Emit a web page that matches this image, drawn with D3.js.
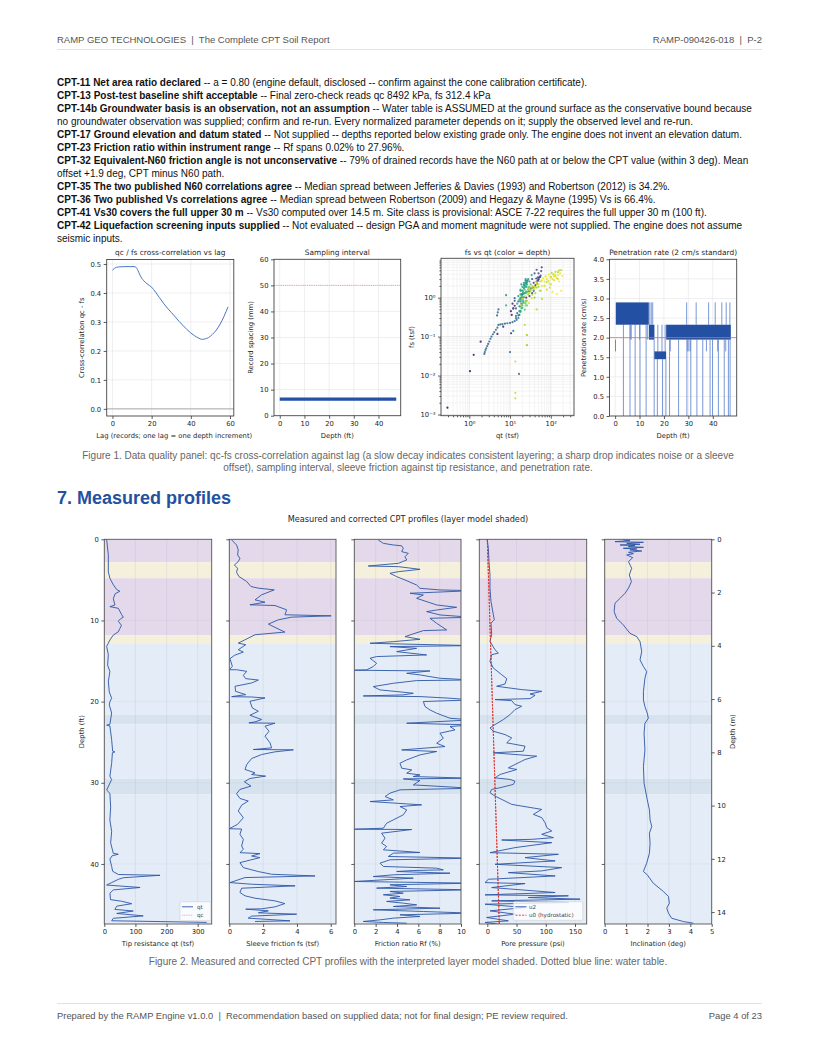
<!DOCTYPE html>
<meta charset="utf-8">
<style>
body { margin: 0; background: #fff; }
svg { display: block; }
</style>
<body>
<script src="https://d3js.org/d3.v7.min.js"></script>
<script>

// ---------- data ----------
var notes = [
  ["CPT-11 Net area ratio declared", " -- a = 0.80 (engine default, disclosed -- confirm against the cone calibration certificate)."],
  ["CPT-13 Post-test baseline shift acceptable", " -- Final zero-check reads qc 8492 kPa, fs 312.4 kPa"],
  ["CPT-14b Groundwater basis is an observation, not an assumption", " -- Water table is ASSUMED at the ground surface as the conservative bound because"],
  ["", "no groundwater observation was supplied; confirm and re-run. Every normalized parameter depends on it; supply the observed level and re-run."],
  ["CPT-17 Ground elevation and datum stated", " -- Not supplied -- depths reported below existing grade only. The engine does not invent an elevation datum."],
  ["CPT-23 Friction ratio within instrument range", " -- Rf spans 0.02% to 27.96%."],
  ["CPT-32 Equivalent-N60 friction angle is not unconservative", " -- 79% of drained records have the N60 path at or below the CPT value (within 3 deg). Mean"],
  ["", "offset +1.9 deg, CPT minus N60 path."],
  ["CPT-35 The two published N60 correlations agree", " -- Median spread between Jefferies & Davies (1993) and Robertson (2012) is 34.2%."],
  ["CPT-36 Two published Vs correlations agree", " -- Median spread between Robertson (2009) and Hegazy & Mayne (1995) Vs is 66.4%."],
  ["CPT-41 Vs30 covers the full upper 30 m", " -- Vs30 computed over 14.5 m. Site class is provisional: ASCE 7-22 requires the full upper 30 m (100 ft)."],
  ["CPT-42 Liquefaction screening inputs supplied", " -- Not evaluated -- design PGA and moment magnitude were not supplied. The engine does not assume"],
  ["", "seismic inputs."]
];

// cross-correlation vs lag
var lags = [0,1,3,6,9,11,12,13,14,16,18,20,22,24,26,28,30,32,34,36,38,40,42,44,45,46,47,49,51,53,55,57,59];
var xcorr = [0.479,0.485,0.490,0.491,0.491,0.491,0.489,0.478,0.462,0.442,0.430,0.420,0.403,0.384,0.365,0.348,0.333,0.318,0.302,0.288,0.274,0.262,0.252,0.244,0.241,0.240,0.241,0.246,0.257,0.272,0.293,0.320,0.352];

// sampling interval
var samplingDepth = [0, 47.2];
var samplingSpacing = [6.35, 6.35];
var samplingLimit = 50;

// fs vs qt, [qt, fs, depth ft]
var fsQtPoints = [
  [0.29,0.0015,0.3],[1.04,0.013,0.6],[1.28,0.034,0.9],[1.9,0.074,1.2],[4.9,0.117,1.6],[6.8,0.18,2.0],[10.6,0.122,2.3],
  [11,0.36,2.6],[12,0.53,3.0],[10.5,0.45,3.4],[13,0.62,3.8],[11.5,0.7,4.2],
  [30,1.1,5.0],[35,1.3,5.5],[45,2.6,6.2],[40,1.9,6.8],[38,1.5,7.5],[42,2.1,7.8],[20,1.2,8.1],[48,2.7,8.2],[55,3.4,8.7],
  [52,3.3,9.2],[60,6.0,9.4],[58,4.8,9.35],[56,3.7,9.6],[50,2.9,9.9],[46,2.3,10.5],[50,3.0,11.1],[48,3.3,11.4],[30,1.5,11.8],
  [20,0.9,12.4],[14,0.53,12.8],[40,4.2,9.3],[45,5.2,9.45],[35,3.0,8.9],[13,0.97,13.0],[12,0.53,13.6],[13,0.83,13.9],
  [32,1.7,6.0],[38,2.4,7.0],[44,3.1,8.4],[50,4.2,9.0],[36,1.8,10.8],[28,1.4,11.6],[25,1.0,5.2],[18,0.8,12.2],
  [2.34,0.036,15.2],[2.4,0.040,15.25],[2.5,0.045,15.3],[2.6,0.05,15.35],[2.75,0.057,15.4],[2.9,0.065,15.45],[3.1,0.075,15.5],
  [3.3,0.088,15.55],[3.5,0.1,15.6],[3.8,0.115,15.65],[4.1,0.13,15.7],[4.5,0.15,15.75],[4.9,0.17,15.8],[5.2,0.2,15.85],
  [5.8,0.205,15.9],[6.5,0.21,15.95],[7.5,0.215,16.0],[8.6,0.22,16.05],[10,0.225,16.1],[11.5,0.235,16.2],[13,0.25,16.3],
  [14.5,0.27,16.4],[16,0.3,16.6],[17,0.36,16.8],[18,0.45,17.0],[17,0.6,17.2],[20,1.0,17.4],[16,0.8,17.8],[14,0.34,18.1],
  [15,0.4,18.7],[18,0.97,19.1],[12,0.14,19.4],[22,1.3,19.5],[4.8,0.35,14.5],[5.2,0.5,14.6],[5.0,0.42,14.4],[10,0.04,14.7],
  [14,0.3,14.3],[16.6,0.011,15.0],
  [20,1.22,20.0],[21,1.36,20.8],[22,1.72,21.2],[19,1.22,21.7],[23,1.9,22.2],[20,1.5,22.5],[8,1.16,22.6],[24,2.7,22.7],
  [23,2.1,23.0],[24,2.35,23.6],[22,2.1,24.3],[25,2.4,25.1],[26,2.5,25.7],[25,1.42,25.9],[34,3.8,26.0],[27,2.7,26.2],
  [25,1.9,26.5],[24,1.32,27.0],[22,1.03,27.7],[20,0.93,28.4],[18,0.6,21.5],[17,0.45,20.5],[16,0.35,20.3],[19,0.7,23.3],
  [21,0.8,24.8],[28,3.0,25.5],[30,2.6,24.0],[26,2.2,23.8],
  [18,1.5,24.5],[20,1.9,25.2],[22,2.4,26.8],[24,3.0,25.8],[26,2.8,23.4],[16,1.1,22.0],[19,2.2,24.0],
  [20,1.52,28.8],[22,2.15,29.2],[18,1.22,29.5],[18,0.89,29.9],[22,1.28,30.4],[8,0.63,30.8],[18,0.43,31.3],[20,0.63,31.9],
  [20,1.12,32.3],[21,0.73,32.8],[19,0.53,33.5],[18,0.83,34.3],[23,0.49,35.1],[24,0.73,35.7],[26,0.63,36.4],[25,0.83,37.0],
  [26,0.06,33.0],[26,0.11,33.6],[22,1.8,31.0],[25,2.0,32.0],[28,1.6,34.0],[30,1.9,35.0],[27,1.4,36.0],
  [15,0.7,30.0],[17,0.9,31.5],[19,1.1,33.0],[21,1.4,34.5],[23,1.6,35.5],[25,1.3,36.5],[20,0.55,29.6],[28,1.8,33.8],
  [32,2.2,35.2],[18,1.6,28.6],
  [22,0.73,37.8],[24,0.83,38.2],[45,1.81,38.7],[30,1.32,39.0],[35,1.81,39.2],[24,0.63,39.8],[26,0.83,40.4],[30,1.72,40.9],
  [45,2.5,41.2],[180,5.1,41.45],[150,4.5,41.5],[100,3.4,41.55],[61,0.93,41.7],[45,0.5,41.9],[23,0.2,42.3],[13.5,0.0036,42.3],
  [13.5,0.0026,42.35],[13.5,0.023,42.4],[115,3.9,42.7],[80,2.5,42.8],[29,0.73,43.0],[18,0.63,43.5],[20,0.93,44.0],
  [56,1.52,44.4],[88,2.7,44.7],[100,3.3,44.9],[60,2.7,45.1],[40,1.9,45.3],[34,0.97,45.6],[93,2.3,45.8],[40,1.72,46.0],
  [125,4.0,46.3],[80,3.0,46.35],[29,1.32,46.5],[23.6,1.12,46.7],[190,3.6,47.0],[140,1.24,47.1],[180,1.5,47.2],
  [130,4.6,41.47],[160,5.0,41.46],[70,2.0,42.75],[100,2.2,43.8],[120,2.8,44.5],[140,3.2,44.8],[110,3.0,45.0],
  [150,3.8,46.2],[170,4.2,46.1],[120,3.5,46.25],[60,2.0,46.8],[70,2.6,45.9],[50,2.2,44.2],[110,1.4,47.3],
  [40,1.0,38.5],[55,1.5,39.5],[35,1.2,40.0],[25.6,0.061,43.2],[25.6,0.11,43.4],
  [30,1.6,44.2],[35,2.0,44.3],[45,2.3,45.4],[55,2.6,43.9],[65,3.1,46.0],[75,3.5,45.7],[90,3.9,46.15],[105,4.3,41.5],
  [130,3.6,42.6],[150,3.0,44.6],[160,2.6,47.25],[95,1.8,44.3],[80,1.6,43.7],[42,1.3,40.2],[38,1.6,40.6],[50,1.9,38.9],
  [28,1.2,39.6],[32,1.5,41.0]
];

// penetration rate: filled bands, then thin vertical strokes [depth, from, to]
var rateBlockStart = [0.0, 0.27, 13.8, 16.1, 20.9];
var rateBlockEnd   = [0.27, 13.8, 16.1, 20.9, 47.4];
var rateBlockLow   = [1.65, 2.33, 1.95, 1.45, 1.95];
var rateBlockHigh  = [1.95, 2.90, 2.33, 1.65, 2.33];
var rateStrokes = [
  [14.2,2.33,2.9],[14.8,2.33,2.9],[15.4,2.33,2.9],[17.5,1.65,2.33],[19.2,1.65,2.33],[20.5,1.65,2.33],
  [29.3,2.33,2.9],[33.2,2.33,2.9],[38.3,2.33,2.9],[41.0,2.33,2.9],[43.7,2.33,2.9],[45.5,2.33,2.9],[47.0,2.33,2.9],
  [6.2,1.95,2.33],[6.6,1.95,2.33],[10.0,1.95,2.33],[13.2,1.95,2.33],[22.6,1.65,1.95],[29.6,1.65,1.95],
  [30.2,1.65,1.95],[30.8,1.65,1.95],[37.4,1.65,1.95],[42.0,1.65,1.95],[45.3,1.65,1.95],
  [3.4,0,2.33],[6.1,0,2.33],[8.2,0,2.33],[10.2,0,2.33],[12.7,0,2.33],[16.0,0,1.95],[17.3,0,1.45],[19.4,0,1.45],
  [20.8,0,1.45],[22.3,0,1.95],[26.0,0,1.95],[29.4,0,1.95],[31.0,0,1.95],[33.5,0,1.95],[35.9,0,1.95],[38.9,0,1.95],
  [39.9,0,1.95],[42.3,0,1.95],[44.7,0,1.95],[46.4,0,1.95],[47.1,0,1.95]
];
var rateStandard = 2.0;

// profiles, [depth ft, value]
var qtProfile = [
  [0,7.5],[1.9,12.9],[4.0,12.9],[4.8,18],[5.6,29],[6.2,40],[6.4,50],[6.7,35],[7.3,29],[8.1,34],[8.3,18],[8.5,45],
  [9.3,56],[9.6,61],[9.8,52],[10.1,45],[10.6,55],[11.0,50],[11.4,45],[11.8,29],[12.4,18],[12.8,13],[13.2,7.5],
  [14.2,12.9],[15.5,10.7],[16.3,18],[17.5,13],[18.8,16],[19.6,23.6],[20.0,18],[20.4,16],[21.4,23.6],[22.8,18],
  [22.9,7.5],[23.0,18],[24.7,23.6],[26.1,26.8],[26.2,34],[26.3,26],[27.6,23.6],[29.2,18],[29.6,23.6],[30.9,7.5],
  [31.3,18],[33.0,20.4],[34.6,18],[36.0,23.6],[37.4,20.4],[38.7,29],[38.8,45],[39.0,25],[39.4,18],[40.3,23.6],
  [40.9,26.8],[41.3,45],[41.4,179],[41.7,61],[41.9,45],[42.3,23.6],[42.6,7.5],[42.9,115],[43.2,29],[43.6,18.2],
  [44.4,20],[44.6,56],[44.9,88],[45.2,40],[45.6,34],[45.8,93],[46.1,40],[46.4,125],[46.7,29],[47.0,23.6],[47.2,329]
];
var fsProfile = [
  [0.08,0.14],[0.70,0.43],[1.31,0.53],[1.93,0.49],[2.34,0.63],[2.75,0.53],[3.16,0.30],[3.57,0.49],[4.06,0.43],
  [4.59,0.57],[5.20,1.03],[5.82,1.28],[6.02,1.72],[6.23,2.66],[6.84,1.91],[7.46,1.52],[7.75,2.11],[8.07,1.22],
  [8.16,2.70],[8.69,3.39],[9.30,3.29],[9.43,6.02],[9.59,3.69],[9.92,2.90],[10.45,2.31],[11.15,3.00],[11.43,3.29],
  [11.76,1.52],[12.38,0.93],[12.79,0.53],[12.99,0.97],[13.61,0.53],[13.89,0.83],[14.30,0.30],[14.71,0.04],
  [15.66,0.18],[16.07,0.0],[16.07,0.43],[16.27,1.03],[16.76,0.83],[17.17,0.97],[17.34,1.72],[17.70,1.32],
  [18.11,0.34],[18.73,0.37],[19.14,0.97],[19.39,0.14],[19.43,1.32],[19.55,2.11],[19.96,1.22],[20.78,1.36],
  [21.19,1.72],[21.68,1.22],[22.21,1.91],[22.50,1.52],[22.62,1.16],[22.66,2.70],[23.03,2.11],[23.65,2.35],
  [24.26,2.11],[25.08,2.41],[25.70,2.50],[25.90,1.42],[25.94,3.79],[26.19,2.70],[26.52,1.91],[27.01,1.32],
  [27.75,1.03],[28.36,0.93],[28.77,1.52],[28.98,1.32],[29.18,2.15],[29.47,1.22],[29.88,0.89],[30.41,1.28],
  [30.82,0.63],[31.35,0.43],[31.93,0.63],[32.25,1.12],[32.75,0.73],[33.48,0.53],[34.30,0.83],[35.12,0.49],
  [35.66,0.0],[35.70,0.73],[36.35,0.63],[36.97,0.83],[37.79,0.73],[38.20,0.83],[38.61,0.63],[38.73,1.81],
  [39.02,1.32],[39.22,1.81],[39.84,0.63],[40.45,0.83],[40.94,1.72],[41.27,2.50],[41.48,5.07],[41.68,0.93],
  [42.30,0.04],[42.50,1.32],[42.70,3.89],[42.99,0.73],[43.52,0.63],[43.93,0.93],[44.22,1.52],[44.55,2.70],
  [44.88,3.29],[45.29,2.70],[45.53,1.91],[45.57,0.97],[45.78,2.31],[46.02,1.72],[46.19,3.98],[46.43,1.32],
  [46.68,1.12],[47.01,3.59],[47.09,1.52]
];
var rfProfile = [
  [0.09,2.25],[0.50,2.72],[0.70,3.66],[0.80,4.44],[1.11,4.59],[1.52,4.44],[1.73,5.06],[2.14,4.75],[2.55,4.91],
  [2.96,4.13],[3.29,1.31],[3.37,4.13],[3.70,6.16],[3.99,4.13],[4.19,3.34],[4.60,3.97],[5.01,4.75],[5.63,5.84],
  [6.04,6.16],[6.24,8.03],[6.33,11],[6.65,5.22],[6.86,6.47],[7.27,5.84],[8.09,7.72],[8.38,9.59],[8.71,7.72],
  [8.91,6.78],[9.32,8.03],[9.61,11],[9.73,7.09],[10.35,7.72],[11.17,8.66],[11.25,6.47],[11.58,5.69],[11.99,4.75],
  [12.32,6.16],[12.61,3.66],[12.81,1.47],[13.10,11],[13.22,3.34],[13.43,5.84],[13.84,3.97],[14.25,6.78],
  [14.45,2.09],[14.66,1.47],[15.27,2.09],[15.68,1.78],[16.09,1.16],[16.13,0],[16.22,7.09],[16.51,4.91],
  [16.71,6.16],[16.92,7.09],[17.12,8.03],[17.33,11],[17.41,5.84],[17.74,3.66],[18.15,1.78],[18.56,2.41],
  [18.76,3.97],[18.97,5.53],[19.17,4.59],[19.30,0.84],[19.38,6.16],[19.58,8.97],[19.79,11],[19.99,6.47],
  [20.61,6.63],[21.02,7.09],[21.43,7.72],[22.05,8.97],[22.25,11],[22.66,4.91],[22.87,11],[23.07,8.97],
  [23.48,9.44],[23.89,8.03],[24.51,8.34],[25.13,7.72],[25.54,8.5],[25.95,4.44],[26.15,7.72],[26.56,6.16],
  [27.18,4.91],[27.59,4.28],[28.20,4.44],[28.41,5.38],[28.82,4.91],[29.03,6.16],[29.23,5.53],[29.44,11],
  [29.52,4.59],[29.72,6.16],[30.26,5.53],[30.67,11],[30.87,4.28],[31.28,3.34],[31.70,2.88],[32.11,3.66],
  [32.31,1.47],[32.60,4.91],[32.72,6.31],[32.93,4.28],[33.34,4.91],[33.95,4.59],[34.57,3.66],[34.98,3.03],
  [35.60,2.72],[35.72,0],[35.76,5.38],[36.21,2.56],[36.83,2.88],[37.44,2.56],[37.85,3.03],[38.26,2.72],
  [38.59,6.16],[38.67,3.66],[39.08,3.19],[39.29,11],[39.49,3.34],[39.90,2.41],[40.31,2.72],[40.52,7.72],
  [40.73,8.34],[40.81,5.53],[40.93,3.97],[41.14,8.97],[41.34,3.66],[41.55,1.78],[41.75,5.53],[42.16,0],
  [42.37,11],[42.57,3.34],[42.78,4.91],[42.98,2.09],[43.19,11],[43.39,3.34],[43.60,4.59],[43.80,2.72],
  [44.01,4.28],[44.21,3.34],[44.42,5.22],[44.62,3.03],[44.83,4.59],[45.04,5.84],[45.24,3.66],[45.45,8.03],
  [45.65,1.78],[45.86,6.47],[46.06,11],[46.27,4.28],[46.47,6.16],[46.68,3.66],[46.89,2.41],[47.09,0.84],
  [47.21,2.72],[47.30,4.91]
];
var u2Profile = [
  [0.08,0],[1.11,1.8],[2.75,2.9],[4.39,4.6],[6.02,4.6],[7.66,6.3],[9.30,10.3],[9.92,12.0],[10.33,6.3],[11.76,7.5],
  [12.58,4.6],[13.61,13.2],[14.02,18.9],[14.22,7.5],[15.04,4.6],[15.86,10.3],[16.68,24.6],[17.17,33.2],[17.83,30.3],
  [18.11,16.0],[18.52,58.8],[18.73,93.1],[19.06,73.1],[19.22,81.7],[19.63,73.1],[19.75,13.2],[19.88,41.7],
  [20.37,47.4],[20.57,58.8],[20.98,47.4],[21.60,38.9],[22.21,27.5],[22.83,13.2],[23.24,4.6],[23.65,10.3],
  [24.06,30.3],[24.47,41.7],[25.08,33.2],[25.49,64.6],[26.11,61.7],[26.31,10.3],[26.72,84.5],[27.13,64.6],
  [27.34,58.8],[27.75,47.4],[28.16,36.0],[28.36,50.3],[28.98,21.7],[29.39,13.2],[29.59,38.9],[29.80,47.4],
  [30.20,44.6],[30.61,21.7],[30.82,7.5],[31.23,4.6],[31.64,13.2],[32.25,30.3],[32.66,41.7],[32.87,58.8],
  [33.28,93.1],[33.89,78.8],[34.30,93.1],[34.92,98.8],[35.53,101.7],[35.94,110.2],[36.35,93.1],[36.76,113.1],
  [36.97,76.0],[37.05,24.6],[37.38,110.2],[37.99,47.4],[38.61,4.6],[38.81,121.6],[39.22,64.6],[39.63,116.0],
  [40.04,13.2],[40.45,127.3],[40.86,93.1],[41.07,36.0],[41.48,116.0],[41.89,1.8],[42.30,-3.9],[42.42,64.6],
  [42.91,7.5],[43.52,116.0],[43.81,-3.9],[43.93,138.7],[44.14,70.2],[44.34,158.7],[44.55,7.5],[44.75,138.7],
  [44.96,-3.9],[45.37,64.6],[45.78,4.6],[46.19,47.4],[46.60,-1.1],[47.01,36.0],[47.21,-3.9],[47.42,18.9]
];
var u0Line = [[0, 0], [47.4, 20.5]];
var inclProfile = [
  [0.08,0.87],[0.16,1.18],[0.29,0.48],[0.37,1.81],[0.49,1.03],[0.62,1.65],[0.70,0.72],[0.78,1.42],[0.90,1.11],
  [0.99,1.81],[1.11,0.87],[1.19,1.50],[1.31,1.18],[1.44,1.73],[1.60,1.11],[1.77,1.34],[1.93,1.03],[2.26,1.31],
  [2.75,1.11],[3.57,1.26],[4.39,1.15],[5.21,1.25],[5.62,1.18],[6.03,1.11],[6.65,0.95],[7.27,0.72],[7.88,0.48],
  [8.91,0.44],[9.73,0.56],[10.55,0.87],[11.58,1.18],[11.99,1.50],[12.60,1.65],[13.83,1.73],[14.86,1.65],
  [15.68,1.81],[16.30,1.96],[17.12,1.88],[18.76,1.81],[19.79,1.81],[20.61,1.88],[21.43,1.99],[22.05,2.04],
  [22.67,1.88],[23.90,1.84],[25.95,1.88],[28.00,1.81],[30.05,1.84],[32.11,1.99],[33.34,2.09],[34.57,2.12],
  [35.39,2.20],[36.21,2.09],[37.44,2.12],[38.68,2.09],[39.91,1.96],[40.93,1.81],[41.34,1.99],[42.37,2.27],
  [43.39,2.74],[44.01,2.98],[44.83,3.02],[45.45,2.90],[46.07,2.98],[46.69,3.13],[47.10,3.68],[47.30,4.14]
];

// interpreted layer model
var layerTop  = [0, 2.83, 4.8, 11.8, 12.9, 21.6, 22.8, 29.5, 31.4];
var layerBase = [2.83, 4.8, 11.8, 12.9, 21.6, 22.8, 29.5, 31.4, 47.4];
var layerKind = ["clay", "silt", "clay", "silt", "sand", "sand2", "sand", "sand2", "sand"];
var layerFill = {clay: "#e4d9eb", silt: "#f5f0dc", sand: "#e4ecf7", sand2: "#d7e2ef"};

// ---------- page ----------
var svg = d3.select("body").append("svg")
    .attr("width", 816)
    .attr("height", 1056);

var pageFont = "'Liberation Sans', Arial, sans-serif";
var plotFont = "'DejaVu Sans', sans-serif";
var ink = "#262626";
var lineBlue = "#2b56a6";

svg.append("text").attr("x", 57).attr("y", 43)
    .attr("font-family", pageFont).attr("font-size", 9.5).attr("fill", "#555")
    .attr("xml:space", "preserve")
    .text("RAMP GEO TECHNOLOGIES  |  The Complete CPT Soil Report");
svg.append("text").attr("x", 762).attr("y", 43).attr("text-anchor", "end")
    .attr("font-family", pageFont).attr("font-size", 9.5).attr("fill", "#555")
    .attr("xml:space", "preserve")
    .text("RAMP-090426-018  |  P-2");
svg.append("line").attr("x1", 57).attr("x2", 762).attr("y1", 49.5).attr("y2", 49.5)
    .attr("stroke", "#e2e2e2").attr("stroke-width", 1);

var noteText = svg.append("g").attr("font-family", pageFont).attr("font-size", 10).attr("fill", "#111");
notes.forEach(function(n, i) {
  var t = noteText.append("text").attr("x", 57).attr("y", 85.5 + i * 13);
  if (n[0]) t.append("tspan").attr("font-weight", "bold").text(n[0]);
  t.append("tspan").text(n[1]);
});

// ---------- helpers ----------
function styleAxis(g, size) {
  g.select(".domain").remove();
  g.selectAll(".tick line").attr("stroke", "#333").attr("stroke-width", 0.8);
  g.selectAll(".tick text").attr("font-family", plotFont).attr("font-size", size).attr("fill", ink);
}

function frame(b, color) {
  svg.append("rect").attr("x", b.x0).attr("y", b.y0)
      .attr("width", b.x1 - b.x0).attr("height", b.y1 - b.y0)
      .attr("fill", "none").attr("stroke", color || "#444").attr("stroke-width", 0.9);
}

var clipCount = 0;
function clipFor(b) {
  var id = "clip" + (clipCount++);
  svg.append("clipPath").attr("id", id).append("rect")
      .attr("x", b.x0).attr("y", b.y0).attr("width", b.x1 - b.x0).attr("height", b.y1 - b.y0);
  return "url(#" + id + ")";
}

function label(x, y, txt, size, rotate, anchor) {
  var t = svg.append("text").attr("font-family", plotFont).attr("font-size", size).attr("fill", ink)
      .attr("text-anchor", anchor || "middle").text(txt);
  if (rotate) t.attr("transform", "translate(" + x + "," + y + ") rotate(-90)");
  else t.attr("x", x).attr("y", y);
  return t;
}

function vGrid(b, xs, vals, color) {
  svg.append("g").selectAll("line").data(vals).enter().append("line")
      .attr("x1", function(d) { return xs(d); }).attr("x2", function(d) { return xs(d); })
      .attr("y1", b.y0).attr("y2", b.y1)
      .attr("stroke", color).attr("stroke-width", 0.6);
}
function hGrid(b, ys, vals, color) {
  svg.append("g").selectAll("line").data(vals).enter().append("line")
      .attr("y1", function(d) { return ys(d); }).attr("y2", function(d) { return ys(d); })
      .attr("x1", b.x0).attr("x2", b.x1)
      .attr("stroke", color).attr("stroke-width", 0.6);
}

var f1 = 6.8;   // figure 1 font size
var t1 = 7.4;   // figure 1 titles
var gridGray = "#e4e4e4";

// ---------- Figure 1, panel 1: cross-correlation ----------
var b1 = {x0: 106.7, x1: 233.8, y0: 259.5, y1: 416};
var xLag = d3.scaleLinear().domain([-2.95, 61.95]).range([b1.x0, b1.x1]);
var yCorr = d3.scaleLinear().domain([-0.0246, 0.5156]).range([b1.y1, b1.y0]);
vGrid(b1, xLag, [0, 20, 40, 60], gridGray);
hGrid(b1, yCorr, [0, 0.1, 0.2, 0.3, 0.4, 0.5], gridGray);
svg.append("line").attr("x1", b1.x0).attr("x2", b1.x1).attr("y1", yCorr(0)).attr("y2", yCorr(0))
    .attr("stroke", "#999").attr("stroke-width", 0.8);
svg.append("path").datum(d3.zip(lags, xcorr))
    .attr("fill", "none").attr("stroke", "#4a76c6").attr("stroke-width", 1)
    .attr("d", d3.line().curve(d3.curveMonotoneX)
      .x(function(d) { return xLag(d[0]); }).y(function(d) { return yCorr(d[1]); }));
frame(b1);
svg.append("g").attr("transform", "translate(0," + b1.y1 + ")")
    .call(d3.axisBottom(xLag).tickValues([0, 20, 40, 60]).tickSize(3).tickPadding(2.5))
    .call(styleAxis, f1);
svg.append("g").attr("transform", "translate(" + b1.x0 + ",0)")
    .call(d3.axisLeft(yCorr).tickValues([0, 0.1, 0.2, 0.3, 0.4, 0.5]).tickFormat(d3.format(".1f")).tickSize(3).tickPadding(2.5))
    .call(styleAxis, f1);
label((b1.x0 + b1.x1) / 2, 254.5, "qc / fs cross-correlation vs lag", t1);
label((b1.x0 + b1.x1) / 2 + 4, 437.5, "Lag (records; one lag = one depth increment)", f1);
label(84, (b1.y0 + b1.y1) / 2, "Cross-correlation qc - fs", f1, true);

// ---------- panel 2: sampling interval ----------
var b2 = {x0: 274, x1: 400.7, y0: 259.3, y1: 415.7};
var xDep2 = d3.scaleLinear().domain([-2.33, 49.0]).range([b2.x0, b2.x1]);
var ySpace = d3.scaleLinear().domain([0, 60]).range([b2.y1, b2.y0]);
vGrid(b2, xDep2, [0, 10, 20, 30, 40], gridGray);
hGrid(b2, ySpace, [10, 20, 30, 40, 50], gridGray);
svg.append("line").attr("x1", b2.x0).attr("x2", b2.x1)
    .attr("y1", ySpace(samplingLimit)).attr("y2", ySpace(samplingLimit))
    .attr("stroke", "#ee8a8a").attr("stroke-width", 0.8).attr("stroke-dasharray", "1.2,1");
svg.append("path").datum(d3.zip(samplingDepth, samplingSpacing))
    .attr("fill", "none").attr("stroke", "#2450a6").attr("stroke-width", 3.4)
    .attr("d", d3.line().x(function(d) { return xDep2(d[0]); }).y(function(d) { return ySpace(d[1]); }));
frame(b2);
svg.append("g").attr("transform", "translate(0," + b2.y1 + ")")
    .call(d3.axisBottom(xDep2).tickValues([0, 10, 20, 30, 40]).tickSize(3).tickPadding(2.5))
    .call(styleAxis, f1);
svg.append("g").attr("transform", "translate(" + b2.x0 + ",0)")
    .call(d3.axisLeft(ySpace).tickValues([0, 10, 20, 30, 40, 50, 60]).tickSize(3).tickPadding(2.5))
    .call(styleAxis, f1);
label((b2.x0 + b2.x1) / 2, 254.5, "Sampling interval", t1);
label((b2.x0 + b2.x1) / 2, 437.5, "Depth (ft)", f1);
label(253, (b2.y0 + b2.y1) / 2, "Record spacing (mm)", f1, true);

// ---------- panel 3: fs vs qt ----------
var b3 = {x0: 441, x1: 574, y0: 258.3, y1: 415.7};
var xQt = d3.scaleLog().domain([Math.pow(10, -0.695), Math.pow(10, 2.57)]).range([b3.x0, b3.x1]);
var yFs = d3.scaleLog().domain([Math.pow(10, -3.03), Math.pow(10, 1.01)]).range([b3.y1, b3.y0]);
var supMap = {"-": "\u207B", "0": "\u2070", "1": "\u00B9", "2": "\u00B2", "3": "\u00B3"};
function pow10Label(v) {
  var e = Math.round(Math.log10(v));
  return "10" + String(e).split("").map(function(c) { return supMap[c]; }).join("");
}
var xMinor = [], yMinor = [];
[-1, 0, 1, 2].forEach(function(e) {
  for (var k = 2; k <= 9; k++) {
    var v = k * Math.pow(10, e);
    if (v > xQt.domain()[0] && v < xQt.domain()[1]) xMinor.push(v);
  }
});
[-4, -3, -2, -1, 0].forEach(function(e) {
  for (var k = 2; k <= 9; k++) {
    var v = k * Math.pow(10, e);
    if (v > yFs.domain()[0] && v < yFs.domain()[1]) yMinor.push(v);
  }
});
vGrid(b3, xQt, xMinor, "#ececec");
hGrid(b3, yFs, yMinor, "#ececec");
vGrid(b3, xQt, [1, 10, 100], "#dadada");
hGrid(b3, yFs, [0.001, 0.01, 0.1, 1], "#dadada");
var depthColor = d3.scaleSequential(d3.interpolateViridis).domain([0, 47.4]);
svg.append("g").attr("clip-path", clipFor(b3))
  .selectAll("circle").data(fsQtPoints).enter().append("circle")
    .attr("cx", function(d) { return xQt(d[0]); })
    .attr("cy", function(d) { return yFs(d[1]); })
    .attr("r", 1.1)
    .attr("fill", function(d) { return depthColor(d[2]); })
    .attr("fill-opacity", 0.85);
frame(b3);
svg.append("g").attr("transform", "translate(0," + b3.y1 + ")")
    .call(d3.axisBottom(xQt).tickValues([1, 10, 100]).tickFormat(pow10Label).tickSize(3).tickPadding(2.5))
    .call(styleAxis, f1);
svg.append("g").attr("transform", "translate(0," + b3.y1 + ")")
    .call(d3.axisBottom(xQt).tickValues(xMinor).tickFormat("").tickSize(1.6))
    .call(styleAxis, f1);
svg.append("g").attr("transform", "translate(" + b3.x0 + ",0)")
    .call(d3.axisLeft(yFs).tickValues([0.001, 0.01, 0.1, 1]).tickFormat(pow10Label).tickSize(3).tickPadding(2.5))
    .call(styleAxis, f1);
svg.append("g").attr("transform", "translate(" + b3.x0 + ",0)")
    .call(d3.axisLeft(yFs).tickValues(yMinor).tickFormat("").tickSize(1.6))
    .call(styleAxis, f1);
label((b3.x0 + b3.x1) / 2, 254.5, "fs vs qt (color = depth)", t1);
label((b3.x0 + b3.x1) / 2, 437.5, "qt (tsf)", f1);
label(414, (b3.y0 + b3.y1) / 2, "fs (tsf)", f1, true);

// ---------- panel 4: penetration rate ----------
var b4 = {x0: 609.5, x1: 736.7, y0: 259.3, y1: 416};
var xDep4 = d3.scaleLinear().domain([-2.3, 49.8]).range([b4.x0, b4.x1]);
var yRate = d3.scaleLinear().domain([0, 4]).range([b4.y1, b4.y0]);
vGrid(b4, xDep4, [0, 10, 20, 30, 40], gridGray);
hGrid(b4, yRate, [0.5, 1, 1.5, 2, 2.5, 3, 3.5], gridGray);
var rateG = svg.append("g").attr("clip-path", clipFor(b4));
rateG.selectAll("line").data(rateStrokes).enter().append("line")
    .attr("x1", function(d) { return xDep4(d[0]); }).attr("x2", function(d) { return xDep4(d[0]); })
    .attr("y1", function(d) { return yRate(d[1]); }).attr("y2", function(d) { return yRate(d[2]); })
    .attr("stroke", "#6a8cd2").attr("stroke-width", 0.9);
rateG.selectAll("rect").data(d3.range(rateBlockStart.length)).enter().append("rect")
    .attr("x", function(i) { return xDep4(rateBlockStart[i]); })
    .attr("width", function(i) { return xDep4(rateBlockEnd[i]) - xDep4(rateBlockStart[i]); })
    .attr("y", function(i) { return yRate(rateBlockHigh[i]); })
    .attr("height", function(i) { return yRate(rateBlockLow[i]) - yRate(rateBlockHigh[i]); })
    .attr("fill", "#2450a4");
svg.append("line").attr("x1", b4.x0).attr("x2", b4.x1)
    .attr("y1", yRate(rateStandard)).attr("y2", yRate(rateStandard))
    .attr("stroke", "#e06a6a").attr("stroke-width", 0.8);
frame(b4);
svg.append("g").attr("transform", "translate(0," + b4.y1 + ")")
    .call(d3.axisBottom(xDep4).tickValues([0, 10, 20, 30, 40]).tickSize(3).tickPadding(2.5))
    .call(styleAxis, f1);
svg.append("g").attr("transform", "translate(" + b4.x0 + ",0)")
    .call(d3.axisLeft(yRate).tickValues([0, 0.5, 1, 1.5, 2, 2.5, 3, 3.5, 4]).tickFormat(d3.format(".1f")).tickSize(3).tickPadding(2.5))
    .call(styleAxis, f1);
label((b4.x0 + b4.x1) / 2, 254.5, "Penetration rate (2 cm/s standard)", t1);
label((b4.x0 + b4.x1) / 2, 437.5, "Depth (ft)", f1);
label(586, (b4.y0 + b4.y1) / 2, "Penetration rate (cm/s)", f1, true);

// caption 1
var cap1 = svg.append("g").attr("font-family", pageFont).attr("font-size", 10).attr("fill", "#666").attr("text-anchor", "middle");
cap1.append("text").attr("x", 408).attr("y", 458.5)
    .text("Figure 1. Data quality panel: qc-fs cross-correlation against lag (a slow decay indicates consistent layering; a sharp drop indicates noise or a sleeve");
cap1.append("text").attr("x", 408).attr("y", 471)
    .text("offset), sampling interval, sleeve friction against tip resistance, and penetration rate.");

// section heading
svg.append("text").attr("x", 57).attr("y", 503.5)
    .attr("font-family", pageFont).attr("font-size", 18).attr("font-weight", "bold").attr("fill", "#22519f")
    .text("7. Measured profiles");

// ---------- Figure 2: profiles ----------
label(408, 521.5, "Measured and corrected CPT profiles (layer model shaded)", 8.2);

var profTop = 539.3, profBottom = 924, depthMax = 47.4;
var yDepth = d3.scaleLinear().domain([0, depthMax]).range([profTop, profBottom]);
var f2 = 6.8;

var panels = [
  {x0: 104.3, x1: 211.7, dom: [0, 345],     ticks: [0, 100, 200, 300],  data: qtProfile,   title: "Tip resistance qt (tsf)"},
  {x0: 229.3, x1: 336,   dom: [0, 6.31],    ticks: [0, 2, 4, 6],        data: fsProfile,   title: "Sleeve friction fs (tsf)"},
  {x0: 354.3, x1: 461,   dom: [0, 10],      ticks: [0, 2, 4, 6, 8, 10], data: rfProfile,   title: "Friction ratio Rf (%)"},
  {x0: 479.3, x1: 586.7, dom: [-13.7, 170], ticks: [0, 50, 100, 150],   data: u2Profile,   title: "Pore pressure (psi)"},
  {x0: 604.7, x1: 711.7, dom: [0, 5],       ticks: [0, 1, 2, 3, 4, 5],  data: inclProfile, title: "Inclination (deg)"}
];

function u0Path(xs, clip) {
  svg.append("path").datum(u0Line).attr("clip-path", clip)
      .attr("fill", "none").attr("stroke", "#e0302a").attr("stroke-width", 0.9)
      .attr("stroke-dasharray", "2,1.3")
      .attr("d", d3.line().x(function(d) { return xs(d[1]); }).y(function(d) { return yDepth(d[0]); }));
}

panels.forEach(function(p, i) {
  var b = {x0: p.x0, x1: p.x1, y0: profTop, y1: profBottom};
  var xs = d3.scaleLinear().domain(p.dom).range([p.x0, p.x1]);

  svg.append("g").selectAll("rect").data(d3.range(layerTop.length)).enter().append("rect")
      .attr("x", p.x0).attr("width", p.x1 - p.x0)
      .attr("y", function(k) { return yDepth(layerTop[k]); })
      .attr("height", function(k) { return yDepth(layerBase[k]) - yDepth(layerTop[k]); })
      .attr("fill", function(k) { return layerFill[layerKind[k]]; });

  vGrid(b, xs, p.ticks, "rgba(170,180,195,0.35)");
  hGrid(b, yDepth, [10, 20, 30, 40], "rgba(170,180,195,0.25)");

  var clip = clipFor(b);
  if (i === 3) u0Path(xs, clip);
  svg.append("path").datum(p.data).attr("clip-path", clip)
      .attr("fill", "none").attr("stroke", lineBlue).attr("stroke-width", 0.9).attr("stroke-linejoin", "round")
      .attr("d", d3.line().x(function(d) { return xs(d[1]); }).y(function(d) { return yDepth(d[0]); }));
  if (i === 3) u0Path(xs, clip);

  frame(b, "#555");

  svg.append("g").attr("transform", "translate(0," + profBottom + ")")
      .call(d3.axisBottom(xs).tickValues(p.ticks).tickFormat(d3.format("d")).tickSize(3).tickPadding(2.5))
      .call(styleAxis, f2);
  var left = d3.axisLeft(yDepth).tickValues([0, 10, 20, 30, 40]).tickSize(3).tickPadding(2.5);
  if (i > 0) left.tickFormat("");
  svg.append("g").attr("transform", "translate(" + p.x0 + ",0)").call(left).call(styleAxis, f2);

  label((p.x0 + p.x1) / 2, 946, p.title, f2);
});

label(83.5, (profTop + profBottom) / 2, "Depth (ft)", f2, true);

// right-hand metric depth axis
var yMetres = d3.scaleLinear().domain([0, depthMax / 3.28084]).range([profTop, profBottom]);
svg.append("g").attr("transform", "translate(711.7,0)")
    .call(d3.axisRight(yMetres).tickValues([0, 2, 4, 6, 8, 10, 12, 14]).tickSize(3).tickPadding(2.5))
    .call(styleAxis, f2);
label(735, (profTop + profBottom) / 2, "Depth (m)", f2, true);

// legends
svg.append("rect").attr("x", 180).attr("y", 901.7).attr("width", 30.7).attr("height", 19)
    .attr("fill", "#fff").attr("fill-opacity", 0.8).attr("stroke", "#d0d0d0").attr("stroke-width", 0.6).attr("rx", 1.2);
svg.append("line").attr("x1", 182).attr("x2", 193).attr("y1", 906.8).attr("y2", 906.8)
    .attr("stroke", lineBlue).attr("stroke-width", 0.9);
svg.append("line").attr("x1", 182).attr("x2", 193).attr("y1", 915.2).attr("y2", 915.2)
    .attr("stroke", "#aaa").attr("stroke-width", 0.8).attr("stroke-dasharray", "0.9,0.9");
label(197, 908.8, "qt", 5.6, false, "start").attr("fill", "#444");
label(197, 917.2, "qc", 5.6, false, "start").attr("fill", "#444");

svg.append("rect").attr("x", 513.3).attr("y", 901.7).attr("width", 69.4).attr("height", 18.6)
    .attr("fill", "#fff").attr("fill-opacity", 0.8).attr("stroke", "#d0d0d0").attr("stroke-width", 0.6).attr("rx", 1.2);
svg.append("line").attr("x1", 515.5).attr("x2", 526.5).attr("y1", 906.8).attr("y2", 906.8)
    .attr("stroke", lineBlue).attr("stroke-width", 0.9);
svg.append("line").attr("x1", 515.5).attr("x2", 526.5).attr("y1", 915.2).attr("y2", 915.2)
    .attr("stroke", "#e0302a").attr("stroke-width", 0.9).attr("stroke-dasharray", "2,1.3");
label(529, 908.8, "u2", 5.6, false, "start").attr("fill", "#444");
label(529, 917.2, "u0 (hydrostatic)", 5.6, false, "start").attr("fill", "#444");

// caption 2
svg.append("text").attr("x", 408).attr("y", 965).attr("text-anchor", "middle")
    .attr("font-family", pageFont).attr("font-size", 10).attr("fill", "#666")
    .text("Figure 2. Measured and corrected CPT profiles with the interpreted layer model shaded. Dotted blue line: water table.");

// footer
svg.append("line").attr("x1", 57).attr("x2", 762).attr("y1", 1003.5).attr("y2", 1003.5)
    .attr("stroke", "#e2e2e2").attr("stroke-width", 1);
svg.append("text").attr("x", 57).attr("y", 1018.5)
    .attr("font-family", pageFont).attr("font-size", 9.4).attr("fill", "#555")
    .attr("xml:space", "preserve")
    .text("Prepared by the RAMP Engine v1.0.0  |  Recommendation based on supplied data; not for final design; PE review required.");
svg.append("text").attr("x", 762).attr("y", 1018.5).attr("text-anchor", "end")
    .attr("font-family", pageFont).attr("font-size", 9.4).attr("fill", "#555")
    .text("Page 4 of 23");

</script>
